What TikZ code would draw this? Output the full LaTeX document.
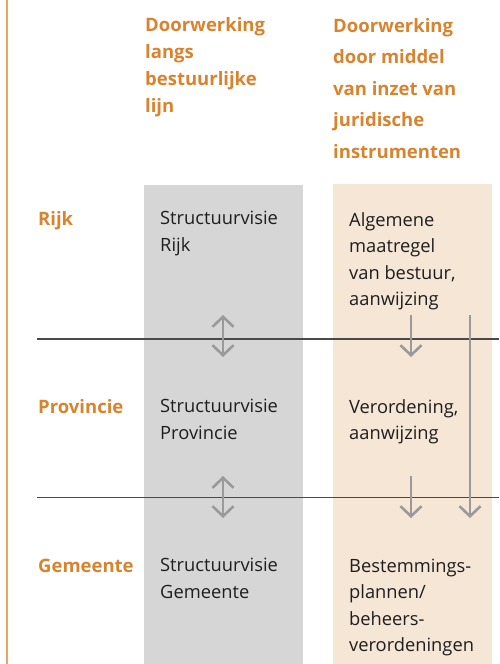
\documentclass[tikz,border=0pt]{standalone}
\usepackage{fontspec}
\setmainfont{Open Sans}
\usetikzlibrary{arrows.meta}

\definecolor{oranje}{HTML}{D8832E}
\definecolor{lijnoranje}{HTML}{E6A862}
\definecolor{kolomgrijs}{HTML}{D6D6D6}
\definecolor{kolombeige}{HTML}{F5E6D5}
\definecolor{pijlgrijs}{HTML}{9A9A9A}
\definecolor{scheiding}{HTML}{4A4A4A}
\definecolor{zwart}{HTML}{1E1E1E}

\begin{document}
\begin{tikzpicture}[x=1pt, y=-1pt,
   every node/.style = {inner sep=0pt, anchor=base west, align=left},
   kop/.style = {text=oranje, font=\bfseries\fontsize{18.5}{26.7}\selectfont},
   tekst/.style = {text=zwart, font=\fontsize{18.3}{26.5}\selectfont},
   pijl/.style = {draw=pijlgrijs, line width=2.6pt,
      -{Straight Barb[length=10pt, width=21pt]}},
   pijlen/.style = {pijl,
      {Straight Barb[length=10pt, width=21pt]}-{Straight Barb[length=10pt, width=21pt]}}]
   \useasboundingbox (0,0) rectangle (499,664);

   % kolommen
   \fill[kolomgrijs] (144,185) rectangle (303,664);
   \fill[kolombeige] (333,184) rectangle (492,664);
   \draw[lijnoranje, line width=1.6pt] (6.7,0) -- (6.7,664);

   % koppen (base = basislijn van de laatste regel)
   \node[kop] (kopLijn) at (145,112) {Doorwerking\\langs\\bestuurlijke\\lijn};
   \node[kop, font=\bfseries\fontsize{18.5}{31.6}\selectfont] (kopJur) at (333,158.4)
      {Doorwerking\\door middel\\van inzet van\\juridische\\instrumenten};

   % bestuurslagen
   \node[kop] (rijk) at (38,225) {Rijk};
   \node[kop] (provincie) at (38,413) {Provincie};
   \node[kop] (gemeente) at (38,572) {Gemeente};

   \node[tekst] (svRijk) at (160,251) {Structuurvisie\\Rijk};
   \node[tekst] (svProv) at (160,439) {Structuurvisie\\Provincie};
   \node[tekst] (svGem) at (160,598) {Structuurvisie\\Gemeente};

   \node[tekst] (jurRijk) at (349,305.5) {Algemene\\maatregel\\van bestuur,\\aanwijzing};
   \node[tekst] (jurProv) at (349,439.5) {Verordening,\\aanwijzing};
   \node[tekst] (jurGem) at (349,651.5) {Bestemmings-\\plannen/\\beheers-\\verordeningen};

   % scheidingslijnen
   \coordinate (s1l) at (37,339);   \coordinate (s1r) at (499,339);
   \coordinate (s2l) at (37,497.5); \coordinate (s2r) at (499,497.5);
   \draw[scheiding, line width=1.4pt] (s1l) -- (s1r);
   \draw[scheiding, line width=1.4pt] (s2l) -- (s2r);

   % pijlen
   \coordinate (b1) at (223,315); \coordinate (o1) at (223,357);
   \coordinate (b2) at (223,476); \coordinate (o2) at (223,518);
   \coordinate (b3) at (411,315); \coordinate (o3) at (411,357);
   \coordinate (b4) at (411,476); \coordinate (o4) at (411,518);
   \coordinate (b5) at (470,315); \coordinate (o5) at (470,518);

   \draw[pijlen] (b1) -- (o1);
   \draw[pijlen] (b2) -- (o2);
   \draw[pijl] (b3) -- (o3);
   \draw[pijl] (b4) -- (o4);
   \draw[pijl] (b5) -- (o5);
\end{tikzpicture}
\end{document}
